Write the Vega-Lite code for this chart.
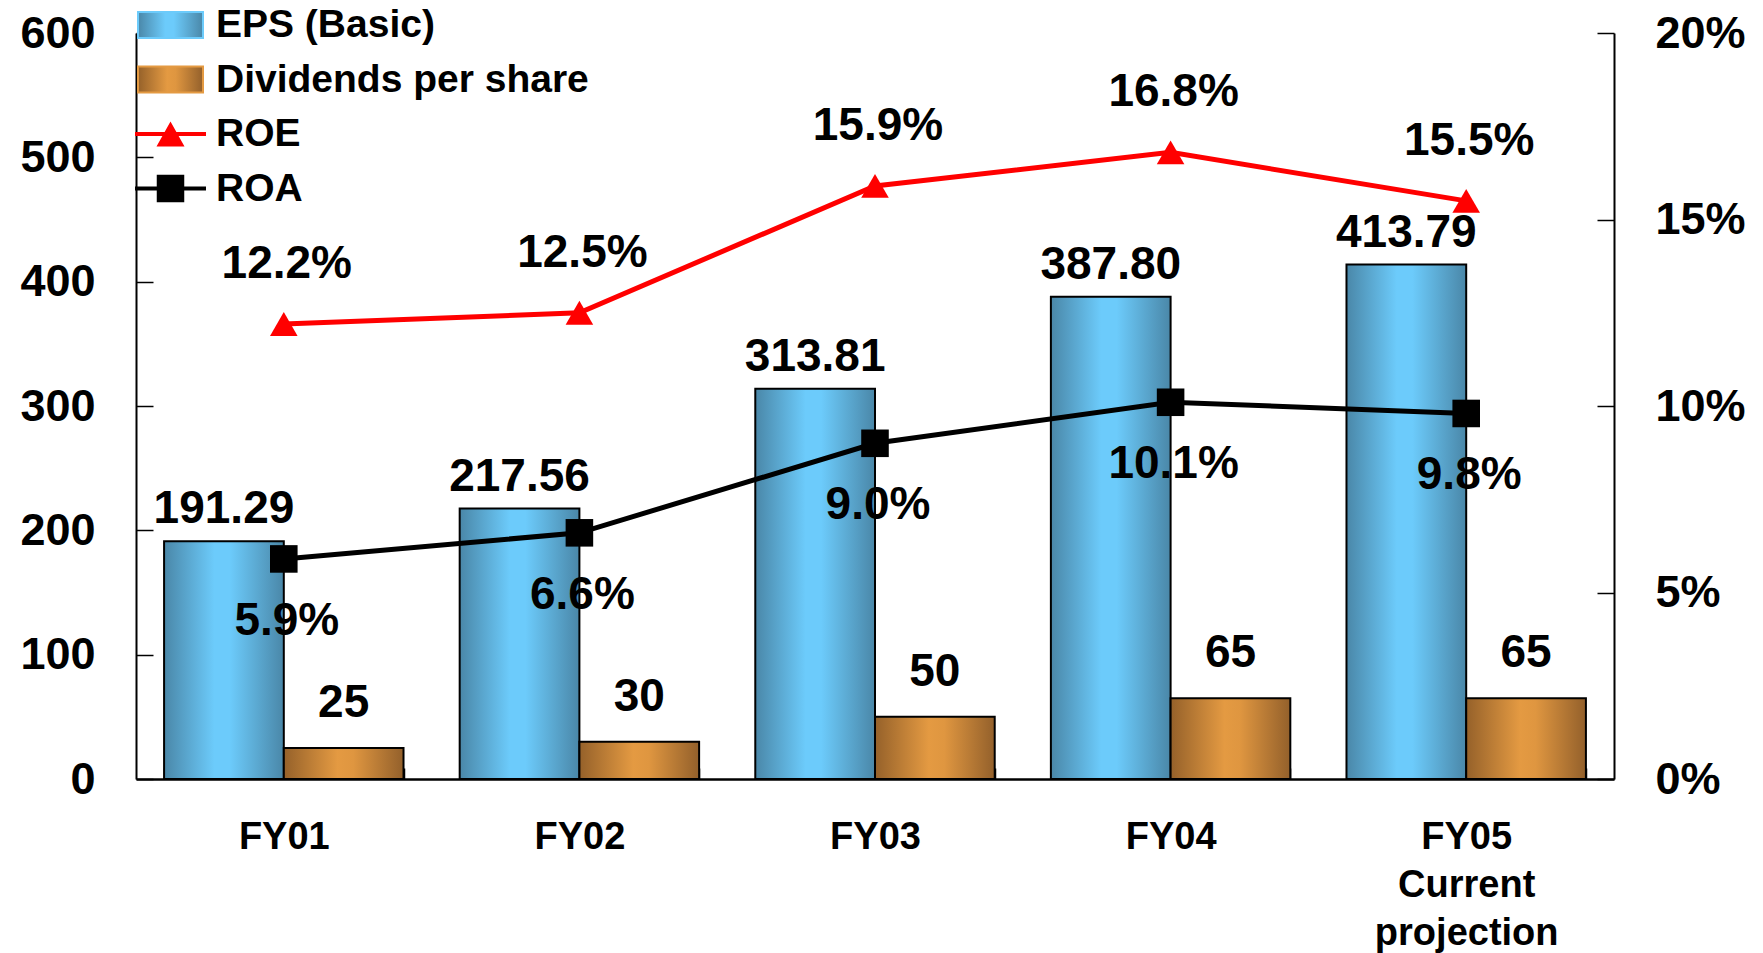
{
  "$schema": "https://vega.github.io/schema/vega-lite/v6.json",
  "width": 1478,
  "height": 746,
  "autosize": {"type": "none"},
  "padding": {"left": 136, "top": 33, "right": 149, "bottom": 174},
  "background": "white",
  "config": {
    "view": {"stroke": null},
    "font": "Liberation Sans",
    "axis": {
      "grid": false,
      "domainColor": "#000000",
      "tickColor": "#000000",
      "labelColor": "#000000",
      "labelFont": "Liberation Sans",
      "labelFontWeight": "bold",
      "title": null
    }
  },
  "data": {
    "values": [
      {"year": "FY01", "series": "EPS (Basic)", "value": 191.29},
      {"year": "FY02", "series": "EPS (Basic)", "value": 217.56},
      {"year": "FY03", "series": "EPS (Basic)", "value": 313.81},
      {"year": "FY04", "series": "EPS (Basic)", "value": 387.80},
      {"year": "FY05", "series": "EPS (Basic)", "value": 413.79},
      {"year": "FY01", "series": "Dividends per share", "value": 25},
      {"year": "FY02", "series": "Dividends per share", "value": 30},
      {"year": "FY03", "series": "Dividends per share", "value": 50},
      {"year": "FY04", "series": "Dividends per share", "value": 65},
      {"year": "FY05", "series": "Dividends per share", "value": 65},
      {"year": "FY01", "series": "ROE", "value": 0.122},
      {"year": "FY02", "series": "ROE", "value": 0.125},
      {"year": "FY03", "series": "ROE", "value": 0.159},
      {"year": "FY04", "series": "ROE", "value": 0.168},
      {"year": "FY05", "series": "ROE", "value": 0.155},
      {"year": "FY01", "series": "ROA", "value": 0.059},
      {"year": "FY02", "series": "ROA", "value": 0.066},
      {"year": "FY03", "series": "ROA", "value": 0.090},
      {"year": "FY04", "series": "ROA", "value": 0.101},
      {"year": "FY05", "series": "ROA", "value": 0.098}
    ]
  },
  "encoding": {
    "x": {
      "field": "year",
      "type": "nominal",
      "sort": null,
      "scale": {"paddingInner": 0.19, "paddingOuter": 0.095},
      "axis": {
        "labelAngle": 0,
        "labelFontSize": 38,
        "labelPadding": 50,
        "labelLineHeight": 48,
        "labelLimit": 0,
        "labelExpr": "datum.value === 'FY05' ? ['FY05', 'Current', 'projection'] : datum.value",
        "domainWidth": 2.5,
        "tickBand": "extent",
        "tickSize": -11,
        "tickWidth": 1.5
      }
    }
  },
  "layer": [
    {
      "transform": [{"filter": "datum.series === 'EPS (Basic)' || datum.series === 'Dividends per share'"}],
      "encoding": {
        "xOffset": {
          "field": "series",
          "type": "nominal",
          "sort": null,
          "scale": {"domain": ["EPS (Basic)", "Dividends per share"], "paddingInner": 0, "paddingOuter": 0}
        },
        "y": {
          "field": "value",
          "type": "quantitative",
          "scale": {"domain": [0, 600], "nice": false},
          "axis": {
            "orient": "left",
            "values": [0, 100, 200, 300, 400, 500, 600],
            "labelFontSize": 45,
            "labelPadding": 58,
            "tickSize": -17,
            "tickWidth": 1.5,
            "domainWidth": 2
          }
        }
      },
      "layer": [
        {
          "mark": {"type": "bar", "stroke": "#000000", "strokeWidth": 2},
          "encoding": {
            "fill": {
              "condition": {
                "test": "datum.series === 'EPS (Basic)'",
                "value": {
                  "gradient": "linear", "x1": 0, "y1": 0, "x2": 1, "y2": 0,
                  "stops": [
                    {"offset": 0, "color": "#4a87a8"},
                    {"offset": 0.42, "color": "#6ccbfb"},
                    {"offset": 0.55, "color": "#6ccbfb"},
                    {"offset": 1, "color": "#4a87a8"}
                  ]
                }
              },
              "value": {
                "gradient": "linear", "x1": 0, "y1": 0, "x2": 1, "y2": 0,
                "stops": [
                  {"offset": 0, "color": "#95612a"},
                  {"offset": 0.45, "color": "#e49a42"},
                  {"offset": 0.58, "color": "#df9640"},
                  {"offset": 1, "color": "#93602b"}
                ]
              }
            }
          }
        },
        {
          "transform": [{"filter": "datum.series === 'EPS (Basic)'"}],
          "mark": {"type": "text", "dy": -18, "baseline": "alphabetic", "fontSize": 46, "fontWeight": "bold", "font": "Liberation Sans", "color": "#000000"},
          "encoding": {"text": {"field": "value", "type": "quantitative", "format": ".2f"}}
        },
        {
          "transform": [{"filter": "datum.series === 'Dividends per share'"}],
          "mark": {"type": "text", "dy": -31, "baseline": "alphabetic", "fontSize": 46, "fontWeight": "bold", "font": "Liberation Sans", "color": "#000000"},
          "encoding": {"text": {"field": "value", "type": "quantitative", "format": "d"}}
        }
      ]
    },
    {
      "transform": [{"filter": "datum.series === 'ROE' || datum.series === 'ROA'"}],
      "encoding": {
        "y": {
          "field": "value",
          "type": "quantitative",
          "scale": {"domain": [0, 0.2], "nice": false},
          "axis": {
            "orient": "right",
            "values": [0, 0.05, 0.1, 0.15, 0.2],
            "format": ".0%",
            "labelFontSize": 45,
            "labelPadding": 58,
            "tickSize": -17,
            "tickWidth": 1.5,
            "domainWidth": 2
          }
        }
      },
      "layer": [
        {
          "mark": {"type": "line", "strokeWidth": 5},
          "encoding": {
            "color": {
              "field": "series",
              "type": "nominal",
              "scale": {
                "domain": ["EPS (Basic)", "Dividends per share", "ROE", "ROA"],
                "range": ["#6ccbfb", "#e49a42", "#ff0000", "#000000"]
              },
              "legend": {
                "orient": "none",
                "legendX": 15,
                "legendY": -27.5,
                "title": null,
                "padding": 0,
                "rowPadding": 14.5,
                "labelFontSize": 39,
                "labelFont": "Liberation Sans",
                "labelFontWeight": "bold",
                "labelColor": "#000000",
                "labelOffset": 26,
                "labelLimit": 0,
                "symbolSize": 2500,
                "encode": {
                  "symbols": {
                    "update": {
                      "size": {"value": 2500},
                      "shape": {"signal": "(datum.value === 'EPS (Basic)' || datum.value === 'Dividends per share') ? 'M-1.3,-0.52H1.3V0.52H-1.3Z' : datum.value === 'ROE' ? 'M-1.42,-0.08H1.42V0.08H-1.42Z M0,-0.5L0.56,0.5L-0.56,0.5Z' : 'M-1.42,-0.08H1.42V0.08H-1.42Z M-0.55,-0.55H0.55V0.55H-0.55Z'"},
                      "fill": {"signal": "datum.value === 'EPS (Basic)' ? {gradient: 'linear', x1: 0, y1: 0, x2: 1, y2: 0, stops: [{offset: 0, color: '#4a87a8'}, {offset: 0.42, color: '#6ccbfb'}, {offset: 0.55, color: '#6ccbfb'}, {offset: 1, color: '#4a87a8'}]} : datum.value === 'Dividends per share' ? {gradient: 'linear', x1: 0, y1: 0, x2: 1, y2: 0, stops: [{offset: 0, color: '#95612a'}, {offset: 0.45, color: '#e49a42'}, {offset: 0.58, color: '#df9640'}, {offset: 1, color: '#93602b'}]} : datum.value === 'ROE' ? '#ff0000' : '#000000'"},
                      "stroke": {"signal": "(datum.value === 'EPS (Basic)' || datum.value === 'Dividends per share') ? '#000000' : 'transparent'"},
                      "strokeWidth": {"signal": "(datum.value === 'EPS (Basic)' || datum.value === 'Dividends per share') ? 2 : 0"},
                      "opacity": {"value": 1}
                    }
                  }
                }
              }
            }
          }
        },
        {
          "mark": {"type": "point", "filled": true, "opacity": 1, "size": 760},
          "encoding": {
            "shape": {
              "field": "series",
              "type": "nominal",
              "scale": {"domain": ["ROE", "ROA"], "range": ["triangle-up", "square"]},
              "legend": null
            },
            "color": {
              "condition": {"test": "datum.series === 'ROE'", "value": "#ff0000"},
              "value": "#000000"
            }
          }
        },
        {
          "transform": [{"filter": "datum.series === 'ROE'"}],
          "mark": {"type": "text", "dy": -60, "dx": 3, "baseline": "middle", "fontSize": 46, "fontWeight": "bold", "font": "Liberation Sans", "color": "#000000"},
          "encoding": {"text": {"field": "value", "type": "quantitative", "format": ".1%"}}
        },
        {
          "transform": [{"filter": "datum.series === 'ROA'"}],
          "mark": {"type": "text", "dy": 62, "dx": 3, "baseline": "middle", "fontSize": 46, "fontWeight": "bold", "font": "Liberation Sans", "color": "#000000"},
          "encoding": {"text": {"field": "value", "type": "quantitative", "format": ".1%"}}
        }
      ]
    }
  ],
  "resolve": {"scale": {"y": "independent"}}
}
